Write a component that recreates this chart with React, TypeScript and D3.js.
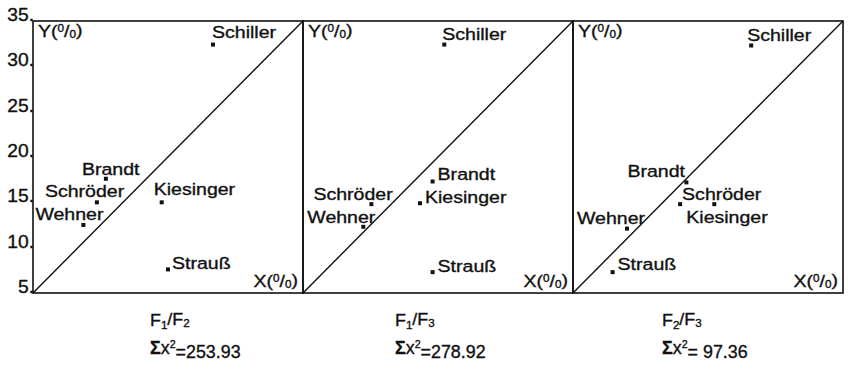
import React from "react";
import * as d3 from "d3";

// Politicians plotted in every panel
const names = ["Schiller", "Brandt", "Schröder", "Wehner", "Kiesinger", "Strauß"];

// Panel F1/F2
const f1f2X = [25.0, 13.1, 12.1, 10.6, 19.3, 20.0];
const f1f2Y = [32.4, 17.6, 15.0, 12.5, 15.0, 7.6];
// Panel F1/F3
const f1f3X = [20.7, 19.4, 12.6, 11.7, 18.0, 19.4];
const f1f3Y = [32.4, 17.3, 14.8, 12.3, 14.9, 7.3];
// Panel F2/F3
const f2f3X = [24.8, 17.6, 16.9, 11.0, 20.7, 9.4];
const f2f3Y = [32.3, 17.2, 14.8, 12.1, 14.8, 7.3];

const panelPairs = [["1", "2"], ["1", "3"], ["2", "3"]];
const chiSquare = [253.93, 278.92, 97.36];
const yTicks = [5, 10, 15, 20, 25, 30, 35];
const domain: [number, number] = [5, 35];

// Label placement relative to each dot (pixels)
const labelOffsets: [number, number][][] = [
  [[-1, -7], [-24, -4], [-52, -5], [-48, -5], [-8, -7], [4, 0]],
  [[-2, -5], [5, -1], [-58, -4], [-56, -4], [5, 0], [5, 0]],
  [[-4, -4], [-59, -5], [2, -4], [-50, -5], [-28, 19], [5, -2]],
];

const panels = [
  { xs: f1f2X, ys: f1f2Y },
  { xs: f1f3X, ys: f1f3Y },
  { xs: f2f3X, ys: f2f3Y },
];

const W = 848;
const H = 369;
const panelLefts = [33, 303, 573];
const panelW = 270;
const top = 21;
const bottom = 293;
const captionX = [150, 395, 662];
const FONT = "'Liberation Sans', Arial, Helvetica, sans-serif";
const SX = 1.15;

function Wide({ x, y, children, size = 17, anchor = "start" as any, sx = SX }: any) {
  return (
    <g transform={`translate(${x},${y}) scale(${sx},1)`}>
      <text
        x={0}
        y={0}
        fontSize={size}
        textAnchor={anchor}
        fontFamily={FONT}
        fill="#111"
        stroke="#111"
        strokeWidth={0.35}
        style={{ whiteSpace: "pre" }}
      >
        {children}
      </text>
    </g>
  );
}

function Percent() {
  return (
    <>
      <tspan>(</tspan>
      <tspan fontSize="0.6em" dy="-0.45em">0</tspan>
      <tspan dy="0.27em">/</tspan>
      <tspan fontSize="0.6em" dy="0.1em">0</tspan>
      <tspan dy="-0.1em">)</tspan>
    </>
  );
}

export default function App() {
  const y = d3.scaleLinear().domain(domain).range([bottom, top]);
  return (
    <svg width={W} height={H} style={{ position: "absolute", left: 0, top: 0, background: "#fff" }}>
      {panels.map((p, pi) => {
        const left = panelLefts[pi];
        const x = d3.scaleLinear().domain(domain).range([left, left + panelW]);
        return (
          <g key={pi}>
            <rect x={left} y={top} width={panelW} height={bottom - top} fill="none" stroke="#111" strokeWidth={1.6} />
            <line x1={x(domain[0])} y1={y(domain[0])} x2={x(domain[1])} y2={y(domain[1])} stroke="#111" strokeWidth={1.4} />
            <Wide x={left + 5} y={top + 16}>
              Y<Percent />
            </Wide>
            <Wide x={left + panelW - 5} y={bottom - 6} anchor="end">
              X<Percent />
            </Wide>
            {names.map((n, i) => {
              const cx = x(p.xs[i]);
              const cy = y(p.ys[i]);
              const [dx, dy] = labelOffsets[pi][i];
              return (
                <g key={n}>
                  <rect x={cx - 2} y={cy - 2} width={4} height={4} fill="#111" />
                  <Wide x={cx + dx} y={cy + dy}>{n}</Wide>
                </g>
              );
            })}
            <Wide x={captionX[pi]} y={326} size={17} sx={1.05}>
              F<tspan fontSize="0.65em" dy="0.25em">{panelPairs[pi][0]}</tspan>
              <tspan dy="-0.25em">/F</tspan>
              <tspan fontSize="0.65em" dy="0.25em">{panelPairs[pi][1]}</tspan>
            </Wide>
            <Wide x={captionX[pi]} y={354} size={17.5} sx={1.02}>
              <tspan fontWeight="bold">Σ</tspan>x
              <tspan fontSize="0.6em" dy="-0.6em">2</tspan>
              <tspan dy="0.6em">{"=" + (chiSquare[pi] < 100 ? " " : "") + chiSquare[pi].toFixed(2)}</tspan>
            </Wide>
          </g>
        );
      })}
      {yTicks.map((t) => (
        <Wide key={t} x={34} y={y(t)} anchor="end" sx={1.1} size={17.5}>
          {t + "."}
        </Wide>
      ))}
    </svg>
  );
}
